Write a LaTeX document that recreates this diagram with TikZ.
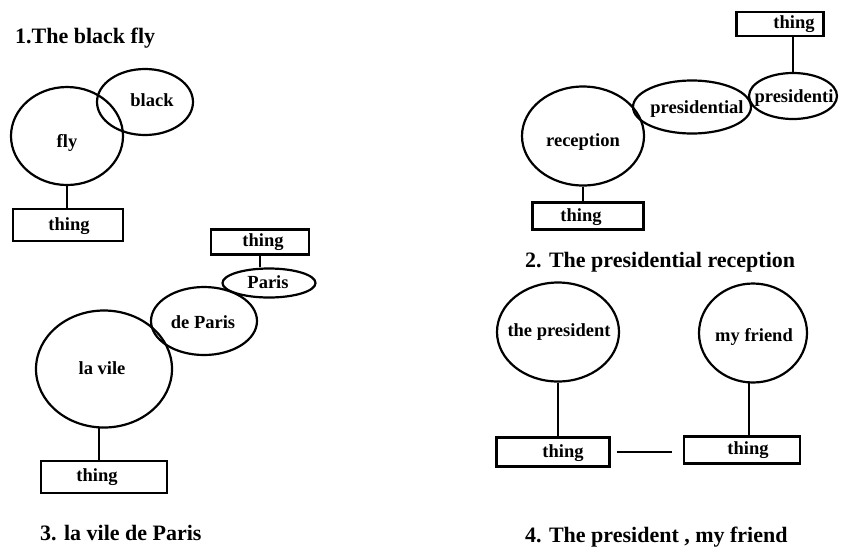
\documentclass[tikz,border=0pt]{standalone}
\usepackage{fontspec}
\setmainfont{Liberation Serif}
\usetikzlibrary{shapes.geometric}
\begin{document}
\begin{tikzpicture}[x=1pt,y=-1pt,
  lw/.style={line width=2.2pt},
  blob/.style={draw, lw, ellipse, inner sep=0pt},
  box/.style={draw, lw, rectangle, inner sep=0pt},
  txt/.style={font=\fontsize{18.5}{20}\selectfont\bfseries, inner sep=0pt},
  captxt/.style={font=\fontsize{22}{24}\selectfont\bfseries, inner sep=0pt, anchor=west},
  link/.style={lw}]
\useasboundingbox (0,0) rectangle (842,547);

% ---------- Panel 1 ----------
\node[captxt] (cap1) at (15,38) {1.The black fly};
\node[blob, minimum width=112, minimum height=98] (fly) at (67,136) {};
\node[blob, minimum width=96, minimum height=66] (black) at (145,102) {};
\node[txt] (flyt) at (67,143) {fly};
\node[txt] (blackt) at (152,100) {black};
\node[box, minimum width=110, minimum height=32] (b1) at (68,225) {};
\node[txt] (b1t) at (69,226) {thing};
\draw[link] (fly.south) -- (fly.south |- b1.north);

% ---------- Panel 2 ----------
\node[box, minimum width=87, minimum height=24] (b2t) at (780,24) {};
\node[txt] (b2tt) at (794,24) {thing};
\node[blob, minimum width=122, minimum height=99] (rec) at (583,136) {};
\node[blob, minimum width=118, minimum height=53] (pres) at (692,107) {};
\node[blob, minimum width=88, minimum height=46] (prsi) at (793,96) {};
\node[txt] (rect) at (583,142) {reception};
\node[txt] (prest) at (697,109) {presidential};
\node[txt] (prsit) at (794,98) {presidenti};
\node[box, minimum width=111, minimum height=27] (b2) at (588,216) {};
\node[txt] (b2x) at (581,217) {thing};
\draw[link] (rec.south) -- (rec.south |- b2.north);
\draw[link] (prsi.north) -- (prsi.north |- b2t.south);
\node[captxt] (cap2) at (525,262) {2. The presidential reception};

% ---------- Panel 3 ----------
\node[box, minimum width=98, minimum height=25] (b3t) at (260,242) {};
\node[txt] (b3tt) at (263,242) {thing};
\node[blob, minimum width=93, minimum height=29] (paris) at (269,283) {};
\node[txt] (parist) at (268,282) {Paris};
\node[blob, minimum width=106, minimum height=68] (dep) at (204,321) {};
\node[txt] (dept) at (203,322) {de Paris};
\node[blob, minimum width=136, minimum height=117] (lv) at (104,369) {};
\node[txt] (lvt) at (102,368) {la vile};
\node[box, minimum width=126, minimum height=32] (b3b) at (104,477) {};
\node[txt] (b3bt) at (97,477) {thing};
\draw[link] (b3t.south) -- (b3t.south |- paris.north);
\draw[link] (lv.-95) -- (lv.-95 |- b3b.north);
\node[captxt] (cap3) at (40,533) {3. la vile de Paris};

% ---------- Panel 4 ----------
\node[blob, minimum width=122, minimum height=99] (tp) at (558,332) {};
\node[txt] (tpt) at (559,332) {the president};
\node[blob, minimum width=108, minimum height=99] (mf) at (753,333) {};
\node[txt] (mft) at (754,337) {my friend};
\node[box, minimum width=113, minimum height=29] (b4l) at (553,452) {};
\node[txt] (b4lt) at (563,453) {thing};
\node[box, minimum width=116, minimum height=27] (b4r) at (742,450) {};
\node[txt] (b4rt) at (748,450) {thing};
\draw[link] (tp.south) -- (tp.south |- b4l.north);
\draw[link] (mf.-95) -- (mf.-95 |- b4r.north);
\draw[link, shorten <=6pt, shorten >=11pt] (b4l.east) -- (b4l.east -| b4r.west);
\node[captxt] (cap4) at (525,537) {4. The president , my friend};
\end{tikzpicture}
\end{document}
